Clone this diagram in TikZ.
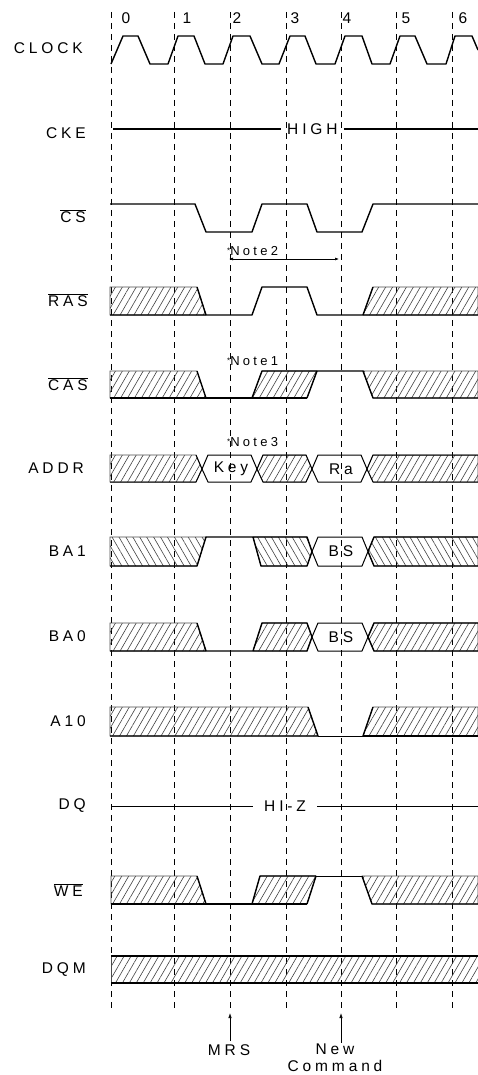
\documentclass[tikz,border=0pt]{standalone}
\usepackage{fontspec}
\setmainfont{Liberation Sans}
\newfontfamily\sigfont[LetterSpace=25]{Liberation Sans}
\usetikzlibrary{arrows.meta,patterns.meta}

\begin{document}
\begin{tikzpicture}[
    x=1pt, y=-1pt,
    font=\sigfont\fontsize{15.5}{18}\selectfont,
    grid/.style     ={dash pattern=on 6pt off 5pt, line width=0.8pt},
    wave/.style     ={line width=1.4pt, line join=round},
    hzline/.style   ={line width=0.8pt},
    hatch/.style    ={pattern={Lines[angle=60, distance=6pt, line width=0.6pt]}, pattern color=black!75, draw=black!70, line width=0.6pt},
    hatchb/.style   ={pattern={Lines[angle=-60, distance=6pt, line width=0.6pt]}, pattern color=black!75, draw=black!70, line width=0.6pt},
    busbox/.style   ={draw, line width=1pt, line join=round},
    siglabel/.style ={anchor=east, inner sep=0pt},
    cycnum/.style   ={inner sep=0pt},
    note/.style     ={font=\sigfont\fontsize{13}{15}\selectfont, anchor=west, inner sep=0pt},
    pointer/.style  ={-{Latex[length=5pt, width=3.5pt]}, line width=0.7pt},
    span/.style     ={{Latex[length=4pt, width=3pt]}-{Latex[length=4pt, width=3pt]}, line width=0.6pt},
  ]
  \useasboundingbox (0,0) rectangle (478,1075);

  % clock cycles
  \draw[grid] (111,12) -- (111,1010);
  \draw[grid] (174,12) -- (174,1010);
  \draw[grid] (230,12) -- (230,1010);
  \draw[grid] (286,12) -- (286,1010);
  \draw[grid] (341,12) -- (341,1010);
  \draw[grid] (396,12) -- (396,1010);
  \draw[grid] (452,12) -- (452,1010);
  \node[cycnum] (c0) at (126,18) {0};
  \node[cycnum] (c1) at (187,18) {1};
  \node[cycnum] (c2) at (237,18) {2};
  \node[cycnum] (c3) at (295,18) {3};
  \node[cycnum] (c4) at (347,18) {4};
  \node[cycnum] (c5) at (406,18) {5};
  \node[cycnum] (c6) at (463,18) {6};

  % labels
  \node[siglabel] (lclk)  at (83,48)  {CLOCK};
  \node[siglabel] (lcke)  at (86,133) {CKE};
  \node[siglabel] (lcs)   at (86,216) {$\overline{\mbox{CS}}$};
  \node[siglabel] (lras)  at (88,300) {$\overline{\mbox{RAS}}$};
  \node[siglabel] (lcas)  at (88,384) {$\overline{\mbox{CAS}}$};
  \node[siglabel] (laddr) at (84,468) {ADDR};
  \node[siglabel] (lba1)  at (86,551) {BA1};
  \node[siglabel] (lba0)  at (86,636) {BA0};
  \node[siglabel] (la10)  at (86,721) {A10};
  \node[siglabel] (ldq)   at (86,806) {DQ};
  \node[siglabel] (lwe)   at (83,890) {$\overline{\mbox{WE}}$};
  \node[siglabel] (ldqm)  at (86,970) {DQM};

  % CLOCK
  \draw[wave] (111,64) -- (123,36) -- (138,36) -- (150,64) -- (168,64) -- (178,36) -- (194,36) -- (205,64)
    -- (223,64) -- (233,36) -- (250,36) -- (262,64) -- (279,64) -- (290,36) -- (305,36) -- (316,64)
    -- (335,64) -- (345,36) -- (362,36) -- (372,64) -- (390,64) -- (400,36) -- (415,36) -- (427,64)
    -- (446,64) -- (455,36) -- (472,36) -- (478,50);

  % CKE
  \node[inner xsep=6pt, inner ysep=0pt, anchor=west] (high) at (281,129) {HIGH};
  \draw[wave] (113,129) -- (high.west);
  \draw[wave] (high.east) -- (478,129);

  % CS
  \draw[wave] (110,204) -- (195,204) -- (206,232) -- (252,232) -- (262,204) -- (307,204) -- (317,232)
    -- (362,232) -- (373,204) -- (478,204);
  \node[note] (note2) at (227,251) {{\fontsize{8}{8}\selectfont\raisebox{2pt}{*}}Note2};
  \coordinate (n2a) at (229,259);
  \coordinate (n2b) at (339,259);
  \draw[span] (n2a) -- (n2b);

  % RAS
  \fill[hatch] (110,287) -- (197,287) -- (206,315) -- (110,315) -- cycle;
  \fill[hatch] (363,315) -- (373,287) -- (478,287) -- (478,315) -- cycle;
  \draw[wave] (110,315) -- (252,315) -- (262,287) -- (307,287) -- (317,315) -- (478,315);
  \draw[wave] (197,287) -- (206,315);
  \draw[wave] (363,315) -- (373,287);

  % CAS
  \node[note] (note1) at (227,361) {{\fontsize{8}{8}\selectfont\raisebox{2pt}{*}}Note1};
  \fill[hatch] (110,371) -- (197,371) -- (206,398) -- (110,398) -- cycle;
  \fill[hatch] (252,398) -- (262,371) -- (317,371) -- (307,398) -- cycle;
  \fill[hatch] (363,371) -- (478,371) -- (478,398) -- (373,398) -- cycle;
  \draw[wave] (110,398) -- (307,398);
  \draw[wave] (197,371) -- (206,398);
  \draw[wave] (252,398) -- (262,371) -- (363,371) -- (373,398) -- (478,398);
  \draw[wave] (317,371) -- (307,398);

  % ADDR
  \node[note] (note3) at (227,442) {{\fontsize{8}{8}\selectfont\raisebox{2pt}{*}}Note3};
  \fill[hatch] (110,455) -- (196,455) -- (202,469) -- (196,482) -- (110,482) -- cycle;
  \fill[hatch] (257,469) -- (263,455) -- (306,455) -- (312,469) -- (306,482) -- (263,482) -- cycle;
  \fill[hatch] (367,469) -- (373,455) -- (478,455) -- (478,482) -- (373,482) -- cycle;
  \draw[busbox] (110,482) -- (196,482) -- (202,469) -- (196,455);
  \draw[busbox] (202,469) -- (208,455) -- (251,455) -- (257,469) -- (251,482) -- (208,482) -- cycle;
  \draw[busbox] (257,469) -- (263,455) -- (306,455) -- (312,469) -- (306,482) -- (263,482) -- cycle;
  \draw[busbox] (312,469) -- (318,455) -- (361,455) -- (367,469) -- (361,482) -- (318,482) -- cycle;
  \draw[busbox] (367,469) -- (373,455) -- (478,455);
  \draw[busbox] (367,469) -- (373,482) -- (478,482);
  \node (key) at (231,469) {Key};
  \node (ra)  at (341,469) {Ra};

  % BA1
  \fill[hatchb] (110,537) -- (206,537) -- (197,566) -- (110,566) -- cycle;
  \fill[hatchb] (253,537) -- (307,537) -- (312,551.5) -- (307,566) -- (261,566) -- cycle;
  \fill[hatchb] (368,551.5) -- (374,537) -- (478,537) -- (478,566) -- (374,566) -- cycle;
  \draw[wave] (110,566) -- (197,566) -- (206,537) -- (307,537) -- (312,551.5) -- (307,566) -- (261,566) -- (253,537);
  \draw[busbox] (312,551.5) -- (318,537) -- (362,537) -- (368,551.5) -- (362,566) -- (318,566) -- cycle;
  \draw[wave] (368,551.5) -- (374,537) -- (478,537);
  \draw[wave] (368,551.5) -- (374,566) -- (478,566);
  \node (bs1) at (341,551.5) {BS};

  % BA0
  \fill[hatch] (110,623) -- (197,623) -- (206,651) -- (110,651) -- cycle;
  \fill[hatch] (253,651) -- (262,623) -- (307,623) -- (312,637) -- (307,651) -- cycle;
  \fill[hatch] (368,637) -- (374,623) -- (478,623) -- (478,651) -- (374,651) -- cycle;
  \draw[wave] (110,651) -- (307,651) -- (312,637) -- (307,623) -- (262,623) -- (253,651);
  \draw[wave] (197,623) -- (206,651);
  \draw[busbox] (312,637) -- (318,623) -- (362,623) -- (368,637) -- (362,651) -- (318,651) -- cycle;
  \draw[wave] (368,637) -- (374,623) -- (478,623);
  \draw[wave] (368,637) -- (374,651) -- (478,651);
  \node (bs0) at (341,637) {BS};

  % A10
  \fill[hatch] (110,707) -- (308,707) -- (318,736) -- (110,736) -- cycle;
  \fill[hatch] (363,736) -- (373,707) -- (478,707) -- (478,736) -- cycle;
  \draw[wave] (110,736) -- (318,736) -- (308,707);
  \draw[hzline] (318,736) -- (363,736);
  \draw[wave] (363,736) -- (373,707);
  \draw[wave] (363,736) -- (478,736);

  % DQ
  \node[inner xsep=11pt, inner ysep=0pt, anchor=west] (hiz) at (253,806) {HI-Z};
  \draw[hzline] (111,806) -- (hiz.west);
  \draw[hzline] (hiz.east) -- (478,806);

  % WE
  \fill[hatch] (111,876) -- (197,876) -- (206,904) -- (111,904) -- cycle;
  \fill[hatch] (252,904) -- (260,876) -- (316,876) -- (307,904) -- cycle;
  \fill[hatch] (362,876) -- (478,876) -- (478,904) -- (372,904) -- cycle;
  \draw[wave] (111,904) -- (307,904);
  \draw[wave] (197,876) -- (206,904);
  \draw[wave] (252,904) -- (260,876) -- (316,876);
  \draw[hzline] (316,876) -- (362,876);
  \draw[wave] (316,876) -- (307,904);
  \draw[wave] (362,876) -- (372,904) -- (478,904);

  % DQM
  \fill[hatch] (111,956) rectangle (478,983);
  \draw[wave] (111,956) -- (478,956);
  \draw[wave] (111,983) -- (478,983);

  % commands
  \node (mrs) at (229,1050) {MRS};
  \coordinate (mrstip) at (230,1013);
  \draw[pointer] (mrs.north -| mrstip) -- (mrstip);
  \node[align=center, inner sep=1pt] (newcmd) at (335,1058) {New\\[-1pt]Command};
  \coordinate (newtip) at (341,1013);
  \draw[pointer] (newcmd.north -| newtip) -- (newtip);
\end{tikzpicture}
\end{document}
